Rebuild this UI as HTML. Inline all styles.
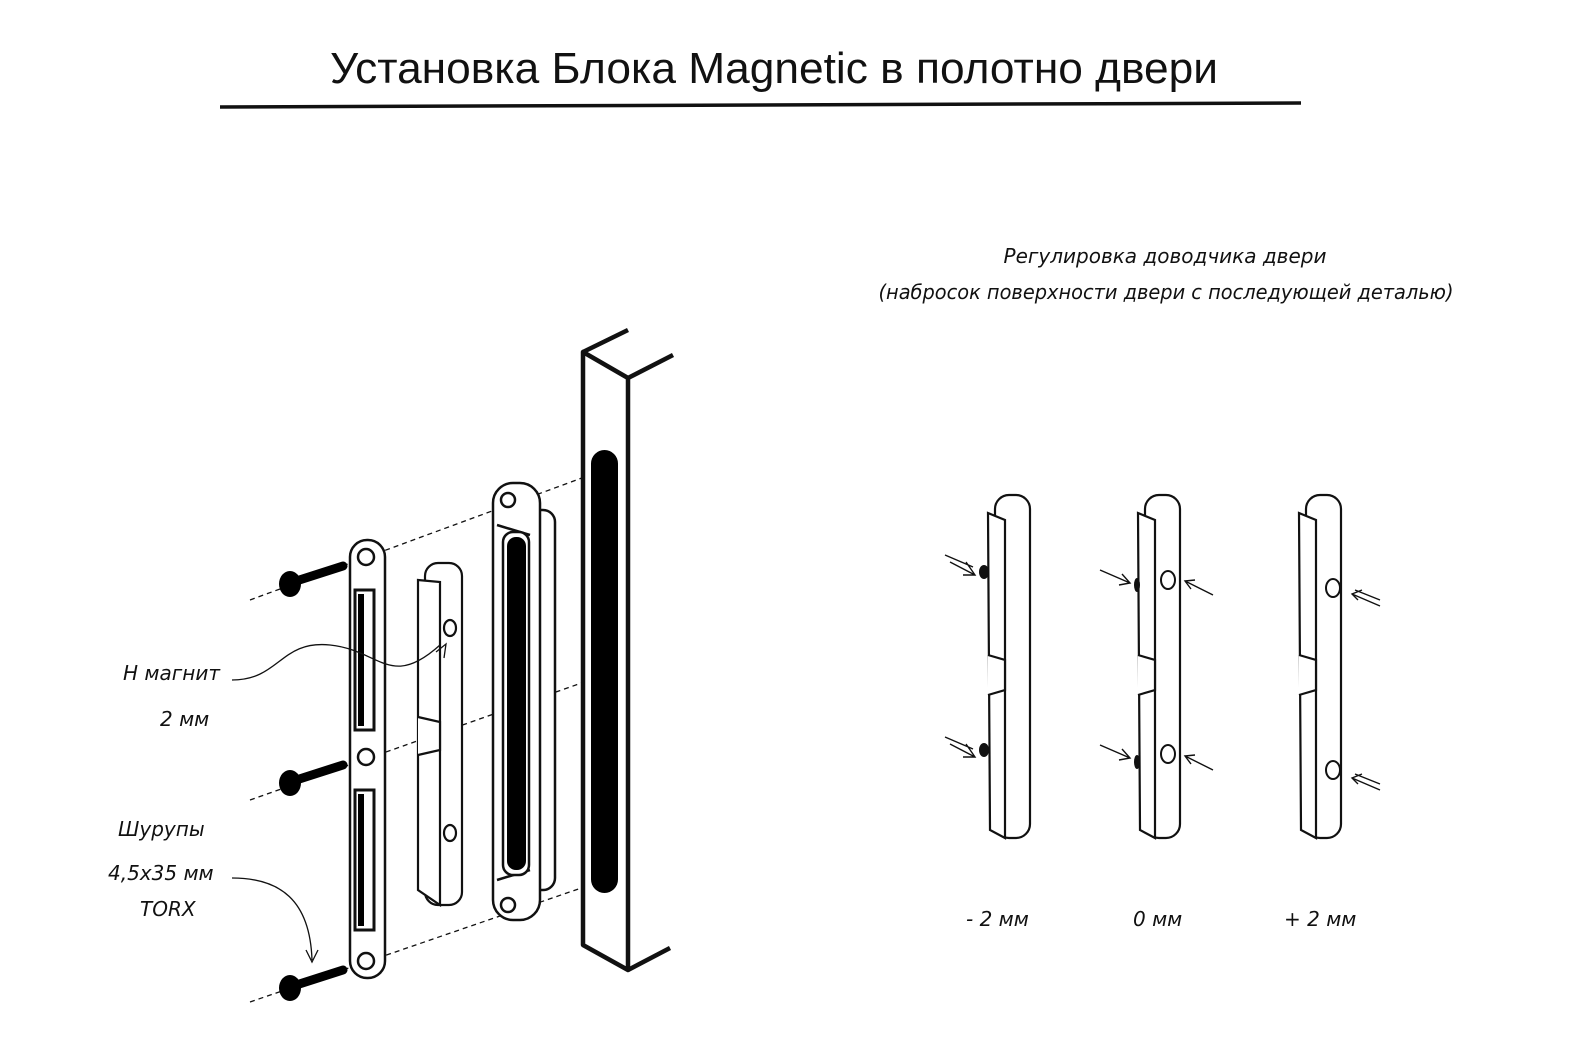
<!DOCTYPE html>
<html><head><meta charset="utf-8"><style>
html,body{margin:0;padding:0;background:#fff}
svg{display:block}
.t{font-family:"Liberation Sans","DejaVu Sans",sans-serif}
.h{font-family:"DejaVu Sans","Liberation Sans",sans-serif;font-style:italic}
</style></head><body>
<svg width="1582" height="1060" viewBox="0 0 1582 1060" xmlns="http://www.w3.org/2000/svg">
<rect width="1582" height="1060" fill="#fff"/>
<text class="t" x="774" y="83" font-size="44" text-anchor="middle" fill="#111" textLength="888" lengthAdjust="spacingAndGlyphs">Установка Блока Magnetic в полотно двери</text>
<line x1="220" y1="107" x2="1301" y2="103" stroke="#111" stroke-width="3.5"/>

<g class="h" fill="#111" font-size="20">
<text x="1165" y="263" text-anchor="middle">Регулировка доводчика двери</text>
<text x="1166" y="299" text-anchor="middle" textLength="575" lengthAdjust="spacingAndGlyphs">(набросок поверхности двери с последующей деталью)</text>
<text x="123" y="680">Н магнит</text>
<text x="160" y="726">2 мм</text>
<text x="118" y="836">Шурупы</text>
<text x="108" y="880">4,5х35 мм</text>
<text x="140" y="916">TORX</text>
<text x="966" y="926">- 2 мм</text>
<text x="1133" y="926">0 мм</text>
<text x="1284" y="926">+ 2 мм</text>
</g>

<g fill="none" stroke="#111" stroke-width="1.3" stroke-dasharray="5,4">
<line x1="250" y1="600" x2="590" y2="475"/>
<line x1="250" y1="800" x2="590" y2="680"/>
<line x1="250" y1="1002" x2="590" y2="885"/>
</g>

<g stroke="#000" stroke-width="9" stroke-linecap="round">
<line x1="290" y1="583" x2="343" y2="566"/>
<line x1="290" y1="782" x2="343" y2="765"/>
<line x1="290" y1="987" x2="343" y2="970"/>
</g>
<g fill="#000"><ellipse cx="290" cy="584" rx="11" ry="13"/><ellipse cx="290" cy="783" rx="11" ry="13"/><ellipse cx="290" cy="988" rx="11" ry="13"/></g>

<g fill="#fff" stroke="#111" stroke-width="4.5" stroke-linejoin="round">
<path d="M583,352 L628,378 L628,970 L583,945 Z"/>
<polyline points="628,330 583,352" fill="none"/>
<polyline points="628,378 673,355" fill="none"/>
<polyline points="628,970 670,948" fill="none"/>
</g>
<rect x="591" y="450" width="27" height="443" rx="13.5" fill="#000"/>

<g fill="#fff" stroke="#111" stroke-width="2.5">
<rect x="520" y="510" width="35" height="380" rx="12"/>
<rect x="493" y="483" width="47" height="437" rx="20"/>
<path d="M497,525 L530,535 M497,880 L530,870" fill="none"/>
<rect x="503" y="532" width="26" height="343" rx="10"/>
<circle cx="508" cy="500" r="7"/><circle cx="508" cy="905" r="7"/>
</g>
<rect x="507" y="537" width="19" height="333" rx="9" fill="#000"/>

<g fill="#fff" stroke="#111" stroke-width="2.2">
<rect x="425" y="563" width="37" height="342" rx="13"/>
<path d="M418,580 L440,582 L440,905 L418,890 Z"/>
<path d="M418,717 L440,722 L440,750 L418,755" />
<ellipse cx="450" cy="628" rx="6" ry="8"/>
<ellipse cx="450" cy="833" rx="6" ry="8"/>
</g>

<g fill="#fff" stroke="#111" stroke-width="2.5">
<rect x="350" y="540" width="35" height="438" rx="17"/>
<circle cx="366" cy="557" r="8"/><circle cx="366" cy="757" r="8"/><circle cx="366" cy="961" r="8"/>
<rect x="355" y="590" width="19" height="140" stroke-width="3"/>
<rect x="355" y="790" width="19" height="140" stroke-width="3"/>
</g>
<rect x="358" y="594" width="6" height="132" fill="#000"/>
<rect x="358" y="794" width="6" height="132" fill="#000"/>

<g fill="none" stroke="#111" stroke-width="1.3">
<path d="M232,680 C280,680 280,640 330,645 C380,650 390,690 440,645"/>
<path d="M436,652 L446,644 L444,658"/>
<path d="M232,878 C280,878 310,900 312,960"/>
<path d="M306,950 L312,962 L318,950"/>
</g>

<defs>
<g id="pc" fill="#fff" stroke="#111" stroke-width="2.2">
<rect x="995" y="495" width="35" height="343" rx="14"/>
<path d="M988,513 L1005,520 L1005,838 L990,830 Z"/>
<path d="M988,655 L1005,660 L1005,690 L988,695"/>
</g>
</defs>
<use href="#pc"/>
<use href="#pc" transform="translate(150,0)"/>
<use href="#pc" transform="translate(311,0)"/>
<g fill="#111"><ellipse cx="984" cy="572" rx="5" ry="7"/><ellipse cx="984" cy="750" rx="5" ry="7"/>
<ellipse cx="1137" cy="585" rx="3" ry="7"/><ellipse cx="1137" cy="762" rx="3" ry="7"/></g>
<g fill="#fff" stroke="#111" stroke-width="2">
<ellipse cx="1168" cy="580" rx="7" ry="9"/><ellipse cx="1168" cy="754" rx="7" ry="9"/>
<ellipse cx="1333" cy="588" rx="7" ry="9"/><ellipse cx="1333" cy="770" rx="7" ry="9"/>
</g>
<g fill="none" stroke="#111" stroke-width="1.4">
<path d="M945,555 L973,567 M950,562 L975,575 M966,562 L975,575 L963,575"/>
<path d="M945,737 L973,749 M950,744 L975,757 M966,744 L975,757 L963,757"/>
<path d="M1100,570 L1130,583 M1122,574 L1130,583 L1119,585"/>
<path d="M1100,745 L1130,758 M1122,749 L1130,758 L1119,760"/>
<path d="M1213,595 L1185,581 M1195,580 L1185,581 L1191,589"/>
<path d="M1213,770 L1185,756 M1195,755 L1185,756 L1191,764"/>
<path d="M1380,606 L1352,594 M1380,600 L1355,590 M1362,590 L1352,594 L1358,600"/>
<path d="M1380,790 L1352,778 M1380,784 L1355,774 M1362,774 L1352,778 L1358,784"/>
</g>
</svg>
</body></html>
